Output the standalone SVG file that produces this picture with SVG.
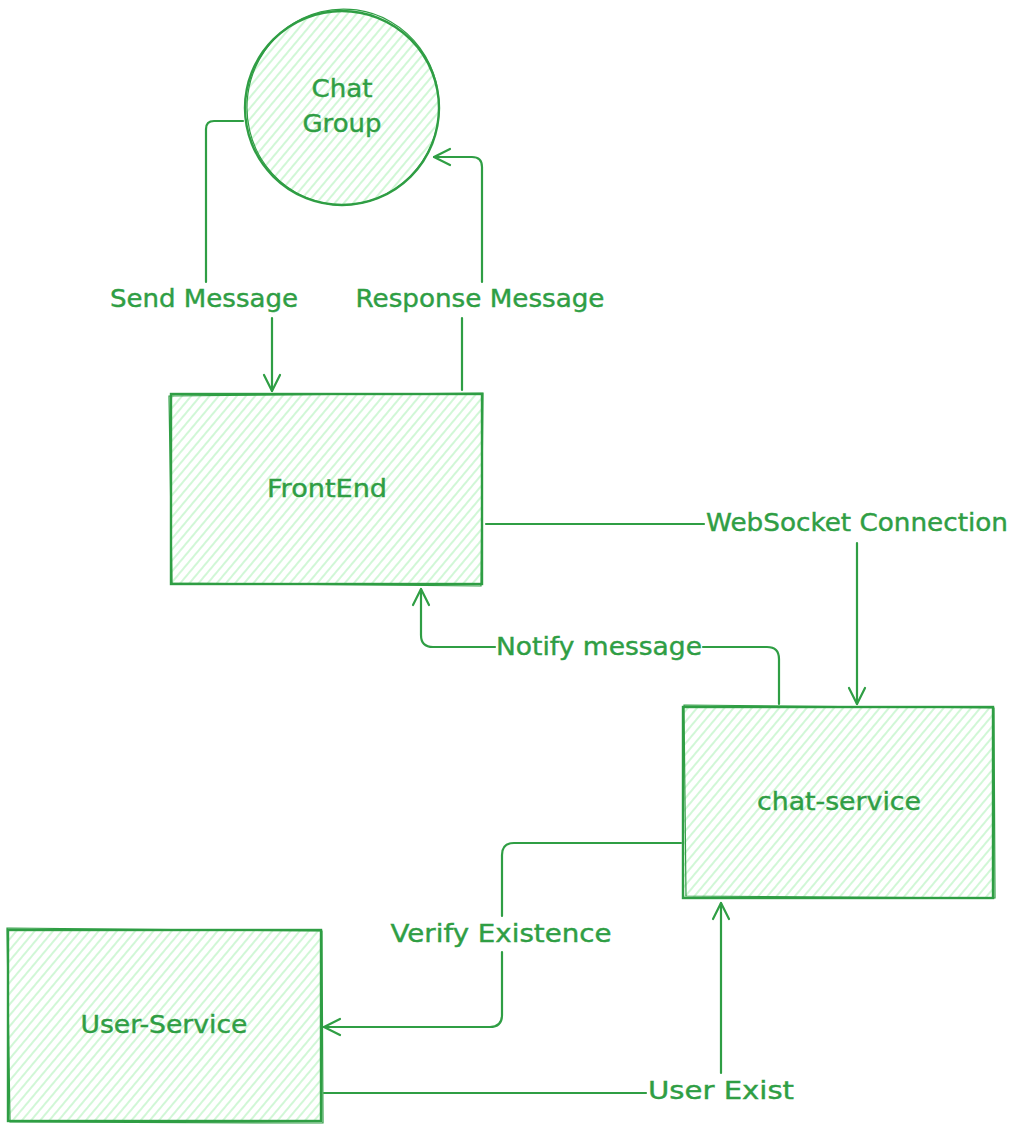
<svg xmlns="http://www.w3.org/2000/svg" width="1019" height="1130" viewBox="0 0 1019 1130">
<defs>
  <pattern id="hatch" patternUnits="userSpaceOnUse" width="7" height="7" patternTransform="rotate(40)">
    <line x1="2" y1="0" x2="2" y2="7" stroke="#b2f2bb" stroke-width="1.2"/>
  </pattern>
  <marker id="arr" viewBox="-18 -10 20 20" refX="0" refY="0" markerWidth="20" markerHeight="20" markerUnits="userSpaceOnUse" orient="auto">
    <path d="M-16,-8 L0,0 L-16,8" fill="none" stroke="#2f9e44" stroke-width="2.2" stroke-linecap="round" stroke-linejoin="round"/>
  </marker>
</defs>
<style>
  .shape { fill: url(#hatch); stroke: #2f9e44; stroke-width: 2.4; }
  .rough { fill: none; stroke: #2f9e44; stroke-width: 1.2; }
  .conn { fill: none; stroke: #2f9e44; stroke-width: 2.2; stroke-linecap: round; stroke-linejoin: round; }
  .lbl { font-family: "DejaVu Sans", "Liberation Sans", sans-serif; font-size: 24px; fill: #2f9e44; stroke: #2f9e44; stroke-width: 0.4; text-anchor: middle; }
</style>
<rect width="1019" height="1130" fill="#ffffff"/>

<g id="chat-group">
  <circle class="shape" cx="342" cy="108" r="97"/>
  <ellipse class="rough" cx="343" cy="107" rx="96" ry="98" transform="rotate(8 343 107)"/>
  <text class="lbl" x="342" y="97" textLength="61" lengthAdjust="spacingAndGlyphs">Chat</text>
  <text class="lbl" x="342" y="132" textLength="79" lengthAdjust="spacingAndGlyphs">Group</text>
</g>

<g id="frontend">
  <rect class="shape" x="171" y="394" width="311" height="190"/>
  <path class="rough" d="M169,396 L483,393 L481,586 L172,583 Z"/>
  <text class="lbl" x="327" y="497" textLength="120" lengthAdjust="spacingAndGlyphs">FrontEnd</text>
</g>

<g id="chat-service">
  <rect class="shape" x="683" y="707" width="310" height="191"/>
  <path class="rough" d="M684,705 L994,708 L995,898 L686,896 Z"/>
  <text class="lbl" x="839" y="810" textLength="164" lengthAdjust="spacingAndGlyphs">chat-service</text>
</g>

<g id="user-service">
  <rect class="shape" x="8" y="930" width="313" height="191"/>
  <path class="rough" d="M7,928 L322,931 L323,1123 L10,1122 Z"/>
  <text class="lbl" x="164" y="1033" textLength="167" lengthAdjust="spacingAndGlyphs">User-Service</text>
</g>

<g id="connectors">
  <path class="conn" d="M243,121 L214,121 Q206,121 206,129 L206,282"/>
  <path class="conn" d="M272,318 L272,391" marker-end="url(#arr)"/>

  <path class="conn" d="M462,390 L462,318"/>
  <path class="conn" d="M482,282 L482,167 Q482,157 472,157 L434,157" marker-end="url(#arr)"/>

  <path class="conn" d="M486,524 L704,524"/>
  <path class="conn" d="M857,543 L857,704" marker-end="url(#arr)"/>

  <path class="conn" d="M779,704 L779,659 Q779,647 767,647 L703,647"/>
  <path class="conn" d="M495,647 L433,647 Q421,647 421,635 L421,589" marker-end="url(#arr)"/>

  <path class="conn" d="M681,843 L514,843 Q502,843 502,855 L502,916"/>
  <path class="conn" d="M502,952 L502,1015 Q502,1027 490,1027 L324,1027" marker-end="url(#arr)"/>

  <path class="conn" d="M324,1093 L646,1093"/>
  <path class="conn" d="M721,1073 L721,903" marker-end="url(#arr)"/>

  <text class="lbl" x="204" y="307" textLength="188" lengthAdjust="spacingAndGlyphs">Send Message</text>
  <text class="lbl" x="480" y="307" textLength="249" lengthAdjust="spacingAndGlyphs">Response Message</text>
  <text class="lbl" x="857" y="531" textLength="302" lengthAdjust="spacingAndGlyphs">WebSocket Connection</text>
  <text class="lbl" x="599" y="655" textLength="206" lengthAdjust="spacingAndGlyphs">Notify message</text>
  <text class="lbl" x="501" y="942" textLength="221" lengthAdjust="spacingAndGlyphs">Verify Existence</text>
  <text class="lbl" x="721" y="1099" textLength="146" lengthAdjust="spacingAndGlyphs">User Exist</text>
</g>
</svg>
